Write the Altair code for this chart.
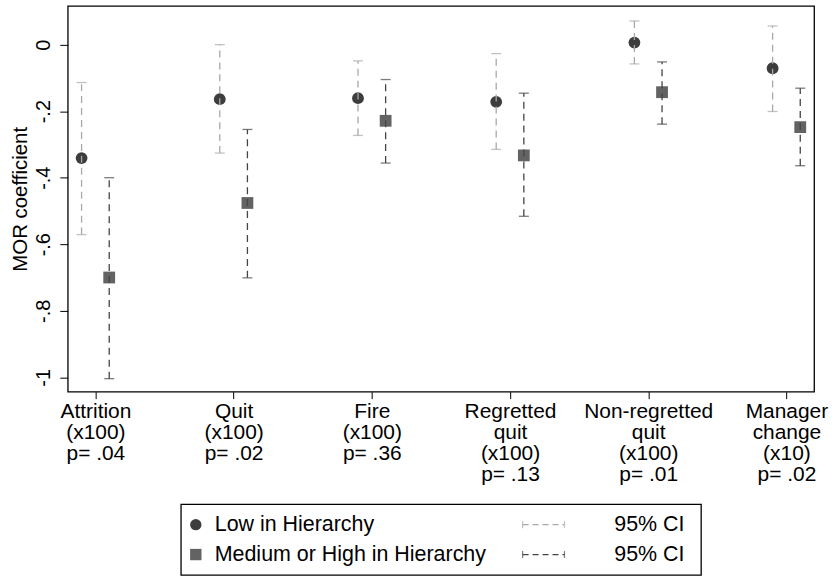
import altair as alt
import pandas as pd

FONT = "Liberation Sans"

# ---- data ----
cat_names = ["Attrition", "Quit", "Fire", "Regretted|quit", "Non-regretted|quit", "Manager|change"]
cat_scales = ["(x100)", "(x100)", "(x100)", "(x100)", "(x100)", "(x10)"]
cat_pvals = ["p= .04", "p= .02", "p= .36", "p= .13", "p= .01", "p= .02"]
groups = ["Low in Hierarchy", "Medium or High in Hierarchy"]
ci_label = "95% CI"

low_coef = [-0.341, -0.164, -0.161, -0.172, 0.006, -0.071]
low_lo = [-0.571, -0.326, -0.273, -0.315, -0.058, -0.201]
low_hi = [-0.114, 0.000, -0.049, -0.027, 0.071, 0.056]
med_coef = [-0.700, -0.476, -0.229, -0.333, -0.143, -0.248]
med_lo = [-1.004, -0.701, -0.356, -0.516, -0.239, -0.364]
med_hi = [-0.400, -0.255, -0.105, -0.146, -0.052, -0.131]

y_ticks = [0, -0.2, -0.4, -0.6, -0.8, -1]
x_ticks = [1, 2, 3, 4, 5, 6]

rows = []
for g, coef, lo, hi in [(groups[0], low_coef, low_lo, low_hi),
                        (groups[1], med_coef, med_lo, med_hi)]:
    for i in range(len(cat_names)):
        rows.append(dict(group=g, idx=i + 1, coef=coef[i], lo=lo[i], hi=hi[i]))
df = pd.DataFrame(rows)
leg_df = pd.DataFrame(dict(group=groups, ci=[ci_label] * len(groups)))

# ---- styles ----
point_fill = alt.Scale(domain=groups, range=["#3d3d3d", "#636363"])
point_shape = alt.Scale(domain=groups, range=["circle", "square"])
ci_color = alt.Scale(domain=groups, range=["#a8a8a8", "#454545"])
DASH = [7, 5]

label_js = "[" + ",".join(
    "'" + n + "|" + s + "|" + p + "'" for n, s, p in zip(cat_names, cat_scales, cat_pvals)
) + "]"
label_expr = "split(" + label_js + "[datum.value - 1], '|')"

x_axis = alt.Axis(values=x_ticks, labelExpr=label_expr, title=None, grid=False,
                  domain=False, tickSize=7, tickColor="black", tickWidth=1,
                  labelFontSize=21, labelLineHeight=21, labelPadding=2,
                  labelOverlap=False, labelFlush=False, labelColor="black",
                  labelFont=FONT, labelBaseline="top")
y_axis = alt.Axis(values=y_ticks,
                  labelExpr="datum.value == 0 ? '0' : (datum.value <= -1 ? '-1' : '-.' + round(-datum.value * 10))",
                  title="MOR coefficient", labelAngle=270, labelAlign="center",
                  labelBaseline="bottom", labelPadding=6, tickSize=8, tickColor="black",
                  labelFontSize=20, labelColor="black", labelFont=FONT,
                  titleFontSize=20.5, titleFontWeight="normal", titleFont=FONT,
                  titleColor="black", titlePadding=3,
                  domain=False, grid=False)

x_enc = alt.X("xpos:Q", scale=alt.Scale(domain=[0.8, 6.2], nice=False, zero=False), axis=x_axis)
y_scale = alt.Scale(domain=[-1.043, 0.116], nice=False, zero=False)

base = alt.Chart(df).transform_calculate(
    xpos="datum.idx + (datum.group == '" + groups[0] + "' ? -0.1 : 0.1)"
)

points = base.mark_point(filled=True, size=140, opacity=1).encode(
    x=x_enc,
    y=alt.Y("coef:Q", scale=y_scale, axis=y_axis),
    fill=alt.Fill("group:N", scale=point_fill, legend=None),
    shape=alt.Shape("group:N", scale=point_shape, legend=None),
)
rules = base.mark_rule(strokeDash=DASH, strokeWidth=1.3).encode(
    x=x_enc,
    y=alt.Y("lo:Q", scale=y_scale, axis=y_axis),
    y2="hi:Q",
    color=alt.Color("group:N", scale=ci_color, legend=None),
)
cap_lo = base.mark_tick(orient="horizontal", size=10, thickness=1.3).encode(
    x=x_enc,
    y=alt.Y("lo:Q", scale=y_scale, axis=y_axis),
    color=alt.Color("group:N", scale=ci_color, legend=None),
)
cap_hi = base.mark_tick(orient="horizontal", size=10, thickness=1.3).encode(
    x=x_enc,
    y=alt.Y("hi:Q", scale=y_scale, axis=y_axis),
    color=alt.Color("group:N", scale=ci_color, legend=None),
)
plot = alt.layer(points, rules, cap_lo, cap_hi).properties(width=749, height=387)

# ---- legend panel ----
leg_base = alt.Chart(leg_df)
leg_y = alt.Y("group:N", scale=alt.Scale(type="point", domain=groups, padding=0.683), axis=None)
leg_marker = leg_base.mark_point(filled=True, size=130, opacity=1).encode(
    x=alt.value(15), y=leg_y,
    fill=alt.Fill("group:N", scale=point_fill, legend=None),
    shape=alt.Shape("group:N", scale=point_shape, legend=None),
)
leg_text = leg_base.mark_text(align="left", baseline="middle", fontSize=21.5, font=FONT, color="black").encode(
    x=alt.value(34), y=leg_y, text="group:N"
)
leg_rule = leg_base.mark_rule(strokeDash=[6, 4], strokeWidth=1.2).encode(
    x=alt.value(343), x2=alt.value(385), y=leg_y,
    color=alt.Color("group:N", scale=ci_color, legend=None),
)
leg_cap1 = leg_base.mark_tick(orient="vertical", size=7, thickness=1.2).encode(
    x=alt.value(343), y=leg_y, color=alt.Color("group:N", scale=ci_color, legend=None),
)
leg_cap2 = leg_base.mark_tick(orient="vertical", size=7, thickness=1.2).encode(
    x=alt.value(385), y=leg_y, color=alt.Color("group:N", scale=ci_color, legend=None),
)
leg_ci_text = leg_base.mark_text(align="left", baseline="middle", fontSize=21.5, font=FONT, color="black").encode(
    x=alt.value(435), y=leg_y, text="ci:N"
)
legend = alt.layer(leg_marker, leg_text, leg_rule, leg_cap1, leg_cap2, leg_ci_text).properties(
    width=522, height=71
)

chart = alt.vconcat(plot, legend, spacing=113, center=True, bounds="flush").resolve_scale(
    x="independent", y="independent"
).properties(
    padding={"left": 10, "top": 4, "right": 5, "bottom": 0}, background="white"
).configure_view(
    stroke="black", strokeWidth=1.3
)

chart.save("out.html", embed_options={"renderer": "svg", "actions": False})
